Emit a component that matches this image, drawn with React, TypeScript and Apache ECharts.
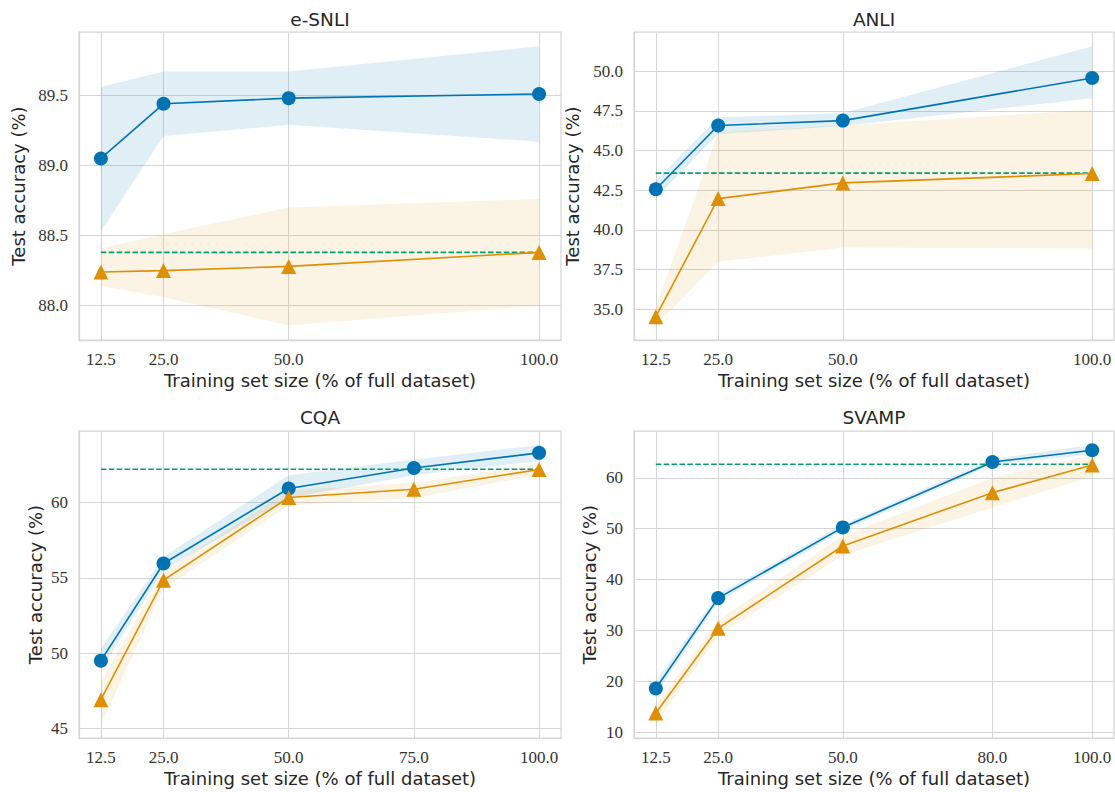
import React, { useEffect, useRef } from "react";
import * as echarts from "echarts";

// ---------- data ----------
const TITLES = ["e-SNLI", "ANLI", "CQA", "SVAMP"];

const X_ESNLI = [12.5, 25, 50, 100];
const ESNLI_BLUE = [89.05, 89.44, 89.48, 89.51];
const ESNLI_BLUE_LO = [88.53, 89.21, 89.29, 89.17];
const ESNLI_BLUE_HI = [89.56, 89.67, 89.67, 89.85];
const ESNLI_ORANGE = [88.24, 88.25, 88.28, 88.38];
const ESNLI_ORANGE_LO = [88.14, 88.06, 87.86, 88.0];
const ESNLI_ORANGE_HI = [88.41, 88.51, 88.7, 88.76];
const ESNLI_BASE = 88.38;

const X_ANLI = [12.5, 25, 50, 100];
const ANLI_BLUE = [42.56, 46.58, 46.89, 49.58];
const ANLI_BLUE_LO = [42.0, 46.05, 46.55, 48.3];
const ANLI_BLUE_HI = [43.1, 47.1, 47.35, 51.58];
const ANLI_ORANGE = [34.52, 41.97, 42.96, 43.55];
const ANLI_ORANGE_LO = [33.95, 37.98, 38.88, 38.82];
const ANLI_ORANGE_HI = [35.1, 46.15, 46.58, 47.58];
const ANLI_BASE = 43.58;

const X_CQA = [12.5, 25, 50, 75, 100];
const CQA_BLUE = [49.51, 55.95, 60.93, 62.29, 63.29];
const CQA_BLUE_LO = [48.9, 55.5, 60.3, 61.8, 62.75];
const CQA_BLUE_HI = [50.3, 56.4, 61.8, 62.85, 63.8];
const CQA_ORANGE = [46.92, 54.85, 60.33, 60.88, 62.19];
const CQA_ORANGE_LO = [45.3, 54.3, 59.8, 60.3, 61.85];
const CQA_ORANGE_HI = [48.1, 55.4, 60.8, 61.3, 62.55];
const CQA_BASE = 62.2;

const X_SVAMP = [12.5, 25, 50, 80, 100];
const SVAMP_BLUE = [18.57, 36.35, 50.26, 63.14, 65.44];
const SVAMP_BLUE_LO = [17.4, 35.6, 49.6, 62.6, 64.6];
const SVAMP_BLUE_HI = [20.0, 37.1, 50.9, 63.7, 66.5];
const SVAMP_ORANGE = [13.73, 30.4, 46.6, 57.1, 62.55];
const SVAMP_ORANGE_LO = [11.6, 29.0, 44.8, 54.2, 60.3];
const SVAMP_ORANGE_HI = [15.2, 32.0, 48.6, 60.0, 64.5];
const SVAMP_BASE = 62.7;

const Y_TICKS_ESNLI = [88.0, 88.5, 89.0, 89.5];
const Y_TICKS_ANLI = [35.0, 37.5, 40.0, 42.5, 45.0, 47.5, 50.0];
const Y_TICKS_CQA = [45, 50, 55, 60];
const Y_TICKS_SVAMP = [10, 20, 30, 40, 50, 60];

const X_LABEL = "Training set size (% of full dataset)";
const Y_LABEL = "Test accuracy (%)";

// ---------- style ----------
const BLUE = "#0173b2";
const ORANGE = "#de8f05";
const GREEN = "#029e73";
const BLUE_FILL = "rgba(1,115,178,0.12)";
const ORANGE_FILL = "rgba(222,143,5,0.11)";
const GRID_C = "#d6d6d6";
const TEXT_C = "#262626";
const SANS = "DejaVu Sans";
const SERIF = "Liberation Serif";

type Panel = {
  xs: number[];
  blue: number[];
  blueLo: number[];
  blueHi: number[];
  orange: number[];
  orangeLo: number[];
  orangeHi: number[];
  base: number;
  yMin: number;
  yMax: number;
  yTicks: number[];
  yDec: number;
  grid: { left: number; top: number; width: number; height: number };
  yNameGap: number;
};

const PANELS: Panel[] = [
  {
    xs: X_ESNLI, blue: ESNLI_BLUE, blueLo: ESNLI_BLUE_LO, blueHi: ESNLI_BLUE_HI,
    orange: ESNLI_ORANGE, orangeLo: ESNLI_ORANGE_LO, orangeHi: ESNLI_ORANGE_HI,
    base: ESNLI_BASE, yMin: 87.755, yMax: 89.952, yTicks: Y_TICKS_ESNLI, yDec: 1,
    grid: { left: 79, top: 32, width: 482, height: 308 }, yNameGap: 52,
  },
  {
    xs: X_ANLI, blue: ANLI_BLUE, blueLo: ANLI_BLUE_LO, blueHi: ANLI_BLUE_HI,
    orange: ANLI_ORANGE, orangeLo: ANLI_ORANGE_LO, orangeHi: ANLI_ORANGE_HI,
    base: ANLI_BASE, yMin: 33.05, yMax: 52.48, yTicks: Y_TICKS_ANLI, yDec: 1,
    grid: { left: 634, top: 32, width: 480, height: 308 }, yNameGap: 53,
  },
  {
    xs: X_CQA, blue: CQA_BLUE, blueLo: CQA_BLUE_LO, blueHi: CQA_BLUE_HI,
    orange: CQA_ORANGE, orangeLo: CQA_ORANGE_LO, orangeHi: CQA_ORANGE_HI,
    base: CQA_BASE, yMin: 44.38, yMax: 64.74, yTicks: Y_TICKS_CQA, yDec: 0,
    grid: { left: 79, top: 431, width: 482, height: 307 }, yNameGap: 35,
  },
  {
    xs: X_SVAMP, blue: SVAMP_BLUE, blueLo: SVAMP_BLUE_LO, blueHi: SVAMP_BLUE_HI,
    orange: SVAMP_ORANGE, orangeLo: SVAMP_ORANGE_LO, orangeHi: SVAMP_ORANGE_HI,
    base: SVAMP_BASE, yMin: 8.82, yMax: 69.23, yTicks: Y_TICKS_SVAMP, yDec: 0,
    grid: { left: 634, top: 431, width: 480, height: 307 }, yNameGap: 36,
  },
];

const X_MIN = 8.125;
const X_MAX = 104.375;

function bandSeries(gi: number, xs: number[], lo: number[], hi: number[], fill: string) {
  return {
    type: "custom",
    xAxisIndex: gi,
    yAxisIndex: gi,
    silent: true,
    z: 1,
    clip: true,
    data: xs.map((x, i) => [x, lo[i], hi[i]]),
    encode: { x: 0, y: [1, 2] },
    renderItem: (params: any, api: any) => {
      if (params.dataIndex !== 0) return null;
      const pts: number[][] = [];
      xs.forEach((x, i) => pts.push(api.coord([x, hi[i]])));
      for (let i = xs.length - 1; i >= 0; i--) pts.push(api.coord([xs[i], lo[i]]));
      return { type: "polygon", shape: { points: pts }, style: { fill } };
    },
  };
}

function lineSeries(gi: number, xs: number[], ys: number[], color: string, symbol: string, size: number) {
  return {
    type: "line",
    xAxisIndex: gi,
    yAxisIndex: gi,
    z: 3,
    data: xs.map((x, i) => [x, ys[i]]),
    symbol,
    symbolSize: size,
    showSymbol: true,
    lineStyle: { color, width: 1.6 },
    itemStyle: { color, borderWidth: 0 },
  };
}

function baseSeries(gi: number, xs: number[], b: number) {
  return {
    type: "line",
    xAxisIndex: gi,
    yAxisIndex: gi,
    z: 2,
    data: [[xs[0], b], [xs[xs.length - 1], b]],
    symbol: "none",
    lineStyle: { color: GREEN, width: 1.6, type: [5.5, 2.4] },
  };
}

export default function App() {
  const ref = useRef<HTMLDivElement>(null);

  useEffect(() => {
    if (!ref.current) return;
    const chart = echarts.init(ref.current, undefined, { renderer: "svg" });

    const grids = PANELS.map((p) => ({
      ...p.grid,
      show: true,
      borderColor: GRID_C,
      borderWidth: 1.25,
      backgroundColor: "#ffffff",
      containLabel: false,
    }));

    const xAxes = PANELS.map((p, gi) => ({
      type: "value",
      gridIndex: gi,
      min: X_MIN,
      max: X_MAX,
      axisLine: { show: true, lineStyle: { color: GRID_C, width: 1.25 } },
      axisTick: { show: false, customValues: p.xs },
      axisLabel: {
        customValues: p.xs,
        formatter: (v: number) => v.toFixed(1),
        margin: 11,
        fontFamily: SERIF,
        fontSize: 17,
        color: "#333333",
      },
      splitLine: { show: true, lineStyle: { color: GRID_C, width: 1 } },
      name: X_LABEL,
      nameLocation: "middle",
      nameGap: 31,
      nameTextStyle: { fontFamily: SANS, fontSize: 18, color: TEXT_C },
    }));

    const yAxes = PANELS.map((p, gi) => ({
      type: "value",
      gridIndex: gi,
      min: p.yMin,
      max: p.yMax,
      axisLine: { show: true, lineStyle: { color: GRID_C, width: 1.25 } },
      axisTick: { show: false, customValues: p.yTicks },
      axisLabel: {
        customValues: p.yTicks,
        formatter: (v: number) => v.toFixed(p.yDec),
        margin: 11,
        fontFamily: SERIF,
        fontSize: 17,
        color: "#333333",
      },
      splitLine: { show: true, lineStyle: { color: GRID_C, width: 1 } },
      name: Y_LABEL,
      nameLocation: "middle",
      nameGap: p.yNameGap,
      nameTextStyle: { fontFamily: SANS, fontSize: 18, color: TEXT_C },
    }));

    const series: any[] = [];
    PANELS.forEach((p, gi) => {
      series.push(bandSeries(gi, p.xs, p.blueLo, p.blueHi, BLUE_FILL));
      series.push(bandSeries(gi, p.xs, p.orangeLo, p.orangeHi, ORANGE_FILL));
      series.push(baseSeries(gi, p.xs, p.base));
      series.push(lineSeries(gi, p.xs, p.blue, BLUE, "circle", 14));
      series.push(lineSeries(gi, p.xs, p.orange, ORANGE, "triangle", 15));
    });

    const titleGraphics = PANELS.map((p, gi) => ({
      type: "text",
      x: p.grid.left + p.grid.width / 2,
      y: gi < 2 ? 19 : 417,
      style: {
        text: TITLES[gi],
        align: "center",
        verticalAlign: "middle",
        fontFamily: SANS,
        fontSize: 18.5,
        fill: TEXT_C,
      },
    }));

    chart.setOption({
      animation: false,
      backgroundColor: "#ffffff",
      grid: grids,
      xAxis: xAxes,
      yAxis: yAxes,
      series,
      graphic: titleGraphics,
    });

    return () => chart.dispose();
  }, []);

  return (
    <div
      ref={ref}
      style={{ position: "fixed", left: 0, top: 0, width: 1115, height: 792, background: "#fff" }}
    />
  );
}
